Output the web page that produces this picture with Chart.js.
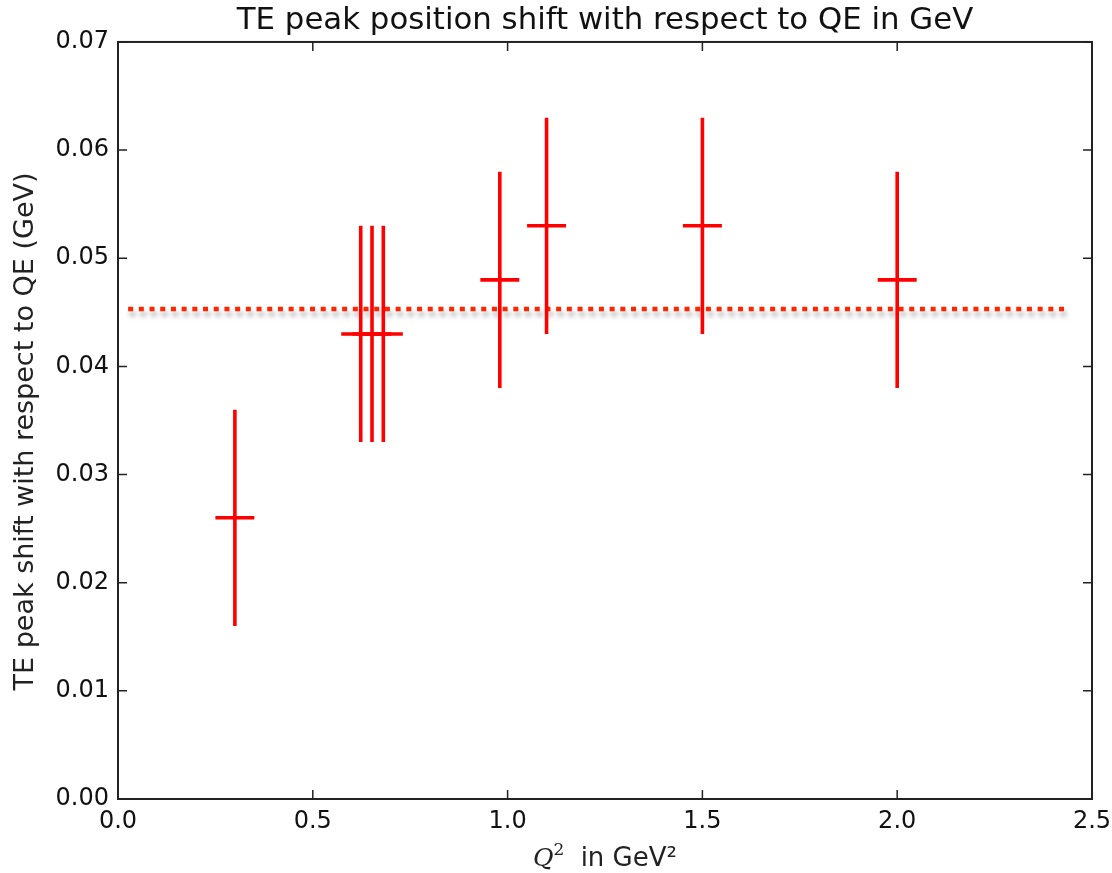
<!DOCTYPE html>
<html>
<head>
<meta charset="utf-8">
<title>TE peak shift</title>
<script src="https://cdn.jsdelivr.net/npm/chart.js@4.4.0/dist/chart.umd.min.js"></script>
<style>
  body { margin: 0; background: #fff; }
</style>
</head>
<body>
<canvas id="peakChart" width="1112" height="873"></canvas>
<script>
// Q^2 (GeV^2) of each setting and the TE peak shift relative to QE (GeV)
const qSquared = [0.3, 0.623, 0.652, 0.681, 0.98, 1.1, 1.5, 2.0];
const peakShift = [0.026, 0.043, 0.043, 0.043, 0.048, 0.053, 0.053, 0.048];
const shiftErr = [0.01, 0.01, 0.01, 0.01, 0.01, 0.01, 0.01, 0.01];
const qErr = [0.05, 0.05, 0.05, 0.05, 0.05, 0.05, 0.05, 0.05];

// average shift, drawn as a dotted line across the plot
const meanRange = [0.026, 2.44];
const meanShift = [0.0453, 0.0453];

const xTicks = [0.0, 0.5, 1.0, 1.5, 2.0, 2.5];
const yTicks = [0.00, 0.01, 0.02, 0.03, 0.04, 0.05, 0.06, 0.07];

const FONT = "'DejaVu Sans', sans-serif";
const TICK_LEN = 9;

// shadow under the dotted average line
const lineShadow = {
  id: 'lineShadow',
  beforeDatasetDraw(chart, args) {
    if (args.index !== 1) return;
    const ctx = chart.ctx;
    ctx.save();
    ctx.shadowColor = 'rgba(0, 0, 0, 0.35)';
    ctx.shadowBlur = 5;
    ctx.shadowOffsetX = 2;
    ctx.shadowOffsetY = 5;
  },
  afterDatasetDraw(chart, args) {
    if (args.index !== 1) return;
    chart.ctx.restore();
  }
};

// vertical + horizontal error bars for each point
const errorBars = {
  id: 'errorBars',
  afterDatasetsDraw(chart) {
    const { ctx, scales: { x, y } } = chart;
    ctx.save();
    ctx.strokeStyle = '#ff0000';
    ctx.lineWidth = 3.6;
    qSquared.forEach((q, i) => {
      const px = x.getPixelForValue(q);
      const py = y.getPixelForValue(peakShift[i]);
      ctx.beginPath();
      ctx.moveTo(px, y.getPixelForValue(peakShift[i] - shiftErr[i]));
      ctx.lineTo(px, y.getPixelForValue(peakShift[i] + shiftErr[i]));
      ctx.moveTo(x.getPixelForValue(q - qErr[i]), py);
      ctx.lineTo(x.getPixelForValue(q + qErr[i]), py);
      ctx.stroke();
    });
    ctx.restore();
  }
};

// box frame with inward tick marks on all four sides, plus both axis labels
const frame = {
  id: 'frame',
  afterDraw(chart) {
    const { ctx, chartArea: a, scales: { x, y } } = chart;
    ctx.save();
    ctx.strokeStyle = '#222';
    ctx.lineWidth = 1.5;
    ctx.beginPath();
    x.ticks.forEach(t => {
      const px = x.getPixelForValue(t.value);
      ctx.moveTo(px, a.bottom); ctx.lineTo(px, a.bottom - TICK_LEN);
      ctx.moveTo(px, a.top); ctx.lineTo(px, a.top + TICK_LEN);
    });
    y.ticks.forEach(t => {
      const py = y.getPixelForValue(t.value);
      ctx.moveTo(a.left, py); ctx.lineTo(a.left + TICK_LEN, py);
      ctx.moveTo(a.right, py); ctx.lineTo(a.right - TICK_LEN, py);
    });
    ctx.stroke();
    ctx.lineWidth = 2;
    ctx.strokeRect(a.left, a.top, a.width, a.height);

    ctx.fillStyle = '#222';

    // y label, rotated
    ctx.save();
    ctx.translate(26, (a.top + a.bottom) / 2 + 11);
    ctx.rotate(-Math.PI / 2);
    ctx.font = '27px ' + FONT;
    ctx.textAlign = 'center';
    ctx.textBaseline = 'middle';
    ctx.fillText('TE peak shift with respect to QE (GeV)', 0, 0);
    ctx.restore();

    // "Q^2  in GeV^2" with a math-style italic Q
    const base = a.bottom + 67;
    const qFont = "italic 25px 'DejaVu Serif', serif";
    const supFont = "17px 'DejaVu Serif', serif";
    const restFont = '26px ' + FONT;
    const rest = ' in GeV\u00b2';
    ctx.font = qFont; const wQ = ctx.measureText('Q').width;
    ctx.font = supFont; const wS = ctx.measureText('2').width;
    ctx.font = restFont; const wR = ctx.measureText(rest).width;
    const gap = 8;
    let cx = (a.left + a.right) / 2 - (wQ + wS + gap + wR) / 2;
    ctx.textBaseline = 'alphabetic';
    ctx.textAlign = 'left';
    ctx.font = qFont; ctx.fillText('Q', cx, base); cx += wQ;
    ctx.font = supFont; ctx.fillText('2', cx, base - 11); cx += wS + gap;
    ctx.font = restFont; ctx.fillText(rest, cx, base);
    ctx.restore();
  }
};

new Chart(document.getElementById('peakChart'), {
  type: 'scatter',
  data: {
    datasets: [
      {
        label: 'TE peak shift',
        data: qSquared.map((q, i) => ({ x: q, y: peakShift[i] })),
        pointRadius: 0,
        showLine: false
      },
      {
        label: 'average',
        data: meanRange.map((q, i) => ({ x: q, y: meanShift[i] })),
        showLine: true,
        borderColor: '#ff2500',
        borderWidth: 4.5,
        borderDash: [5, 5.7],
        pointRadius: 0
      }
    ]
  },
  options: {
    responsive: false,
    animation: false,
    layout: { padding: { top: 0, right: 20, bottom: 0, left: 0 } },
    plugins: {
      legend: { display: false },
      tooltip: { enabled: false },
      title: {
        display: true,
        fullSize: false,
        text: 'TE peak position shift with respect to QE in GeV',
        color: '#111',
        font: { family: FONT, size: 30.8, weight: 'normal' },
        padding: { top: 3, bottom: 2 }
      }
    },
    scales: {
      x: {
        type: 'linear',
        min: 0,
        max: 2.5,
        grid: { display: false, drawTicks: false },
        border: { display: false },
        afterBuildTicks: s => { s.ticks = xTicks.map(v => ({ value: v })); },
        afterFit: s => { s.height = 74; s.paddingLeft = 0; s.paddingRight = 0; },
        ticks: {
          color: '#111',
          padding: 8,
          maxRotation: 0,
          font: { family: FONT, size: 24 },
          callback: v => v.toFixed(1)
        }
      },
      y: {
        min: 0,
        max: 0.07,
        grid: { display: false, drawTicks: false },
        border: { display: false },
        afterBuildTicks: s => { s.ticks = yTicks.map(v => ({ value: v })); },
        afterFit: s => { s.width = 118; s.paddingTop = 0; s.paddingBottom = 0; },
        ticks: {
          color: '#111',
          padding: 9,
          font: { family: FONT, size: 24 },
          callback: v => v.toFixed(2)
        }
      }
    }
  },
  plugins: [lineShadow, errorBars, frame]
});
</script>
</body>
</html>
